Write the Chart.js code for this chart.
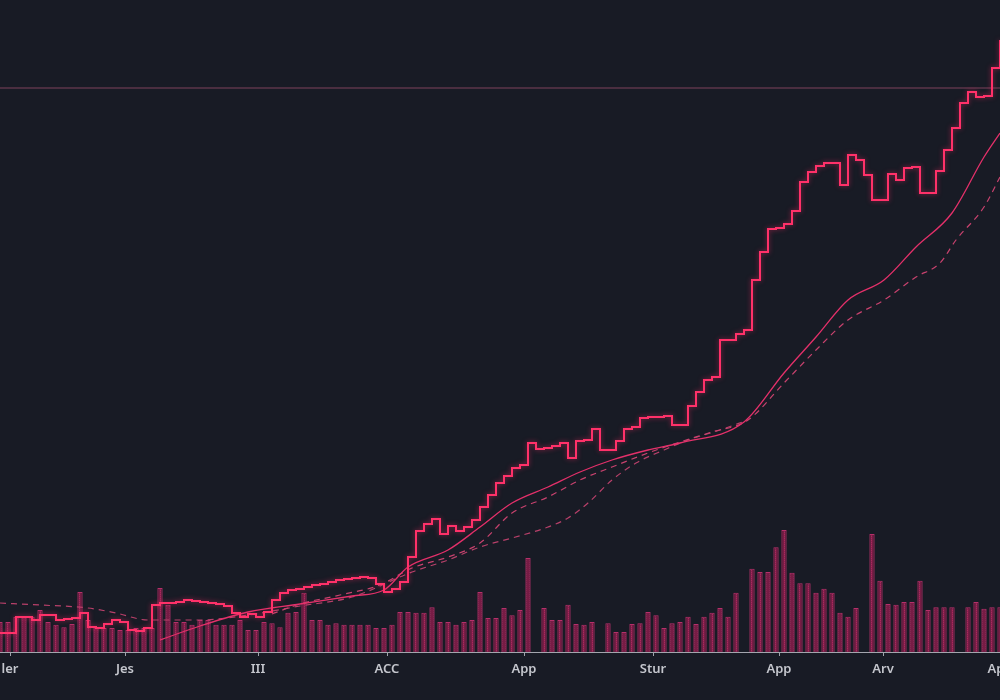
<!DOCTYPE html>
<html>
<head>
<meta charset="utf-8">
<title>Price chart</title>
<script src="https://cdn.jsdelivr.net/npm/chart.js@4"></script>
<style>
    html, body { margin: 0; padding: 0; background: #181b25; }
    #wrap { width: 1000px; height: 700px; position: relative; }
</style>
</head>
<body>
<div id="wrap"><canvas id="priceChart"></canvas></div>
<script>
// Data (x = trading day, one price/volume sample every 2 days)
const tickDays = [2.5, 31.25, 64.5, 96.75, 131, 163.25, 194.75, 220.75, 250];
const tickLabels = ['ler', 'Jes', 'III', 'ACC', 'App', 'Stur', 'App', 'Arv', 'App'];

const prices = [
    43.8, 43.8, 47.0, 47.0, 46.4, 47.4, 47.4, 46.4, 46.6, 46.8,
    47.8, 45.0, 44.8, 45.6, 46.4, 46.0, 44.4, 44.2, 44.8, 49.4,
    49.8, 49.8, 50.0, 50.4, 50.2, 50.0, 49.8, 49.6, 49.2, 47.8,
    47.0, 47.6, 47.0, 48.0, 50.4, 51.8, 52.4, 52.6, 53.0, 53.4,
    53.6, 54.0, 54.4, 54.6, 54.8, 55.0, 54.8, 53.6, 52.0, 52.6,
    54.0, 59.0, 64.2, 65.6, 66.6, 63.6, 65.2, 64.2, 65.0, 66.4,
    69.0, 71.4, 73.8, 75.2, 76.8, 77.4, 81.8, 80.6, 80.8, 81.2,
    81.8, 78.8, 82.2, 82.4, 84.6, 80.4, 80.4, 82.2, 84.6, 85.0,
    86.8, 87.0, 87.0, 87.2, 85.4, 85.4, 89.2, 92.0, 94.4, 95.0,
    102.4, 102.4, 103.6, 104.4, 114.4, 120.0, 124.6, 124.8, 125.6, 128.2,
    134.0, 136.0, 137.2, 137.8, 137.8, 133.4, 139.4, 138.4, 135.4, 130.4,
    130.4, 135.6, 134.4, 136.8, 137.0, 131.8, 131.8, 136.2, 140.4, 144.8,
    149.8, 152.0, 151.0, 151.2, 156.8, 162.4
];

const volumes = [
    7.5, 7.5, 8.8, 8.8, 8.8, 10.5, 7.5, 6.8, 6.2, 7.0,
    15.0, 8.0, 6.2, 6.0, 6.0, 5.5, 5.5, 6.0, 6.0, 6.0,
    16.0, 11.8, 7.5, 7.5, 6.8, 8.0, 8.0, 6.8, 6.8, 6.8,
    8.0, 5.5, 5.5, 7.5, 7.2, 6.2, 9.8, 10.0, 14.8, 8.0,
    8.0, 6.8, 7.2, 6.8, 6.8, 6.8, 6.8, 6.0, 6.0, 6.8,
    10.0, 10.0, 9.8, 9.8, 11.2, 7.5, 7.5, 6.8, 7.5, 8.0,
    15.0, 8.5, 8.5, 11.0, 9.2, 10.5, 23.5, null, 11.0, 8.0,
    8.0, 11.8, 7.0, 6.8, 7.5, null, 7.2, 5.0, 5.0, 7.0,
    7.2, 10.0, 9.2, 6.0, 7.2, 7.5, 8.8, 7.0, 8.8, 9.8,
    11.0, 8.8, 14.8, null, 20.8, 20.0, 20.0, 26.2, 30.5, 19.8,
    17.2, 17.2, 14.8, 15.8, 14.8, 9.8, 8.8, 11.0, null, 29.5,
    17.8, 12.0, 11.8, 12.5, 12.5, 17.8, 10.5, 11.2, 11.2, 11.2,
    null, 11.2, 12.5, 10.8, 11.2, 11.2
];

const maFastDays = [40, 50, 62, 75, 88, 96, 102, 112, 120, 128, 137, 145, 153, 162, 170, 186, 196, 204, 212, 221, 229, 238, 246, 250];
const maFastVals = [42.4, 45.2, 48.0, 49.6, 51.2, 52.4, 57.0, 60.4, 65.0, 69.8, 73.0, 76.0, 78.4, 80.4, 81.8, 86.0, 95.8, 103.0, 110.4, 114.4, 121.0, 127.8, 139.0, 143.8];

const maMidDays = [68, 75, 85, 95, 103, 112, 120, 128, 137, 145, 153, 162, 170, 178, 187, 196, 204, 212, 221, 229, 235, 239, 246, 250];
const maMidVals = [47.6, 49.6, 51.4, 53.4, 56.8, 59.0, 61.8, 67.8, 71.0, 74.4, 77.0, 79.8, 82.0, 84.0, 86.4, 93.8, 100.4, 106.4, 110.4, 115.0, 117.8, 122.4, 129.0, 135.0];

const maSlowDays = [0, 10, 22, 29, 37, 50, 62, 75, 88, 103, 112, 120, 128, 137, 142, 147, 153, 159, 166, 172, 180, 187];
const maSlowVals = [49.8, 49.4, 48.8, 47.8, 46.4, 46.4, 47.4, 49.2, 51.0, 56.0, 58.4, 61.0, 62.8, 65.0, 66.8, 69.8, 74.4, 77.8, 80.4, 82.4, 84.4, 86.4];

const resistance = 152.8;

// Build datasets
const pairs = (days, vals) => days.map((d, i) => ({ x: d, y: vals[i] }));
const priceData = prices.map((p, i) => ({ x: i * 2, y: p }));
const volumeData = volumes.map((v, i) => ({ x: i * 2, y: v }));

// dotted crimson fill for the volume bars
function barPattern() {
    const c = document.createElement('canvas');
    c.width = 3;
    c.height = 2;
    const g = c.getContext('2d');
    g.fillStyle = '#771c45';
    g.fillRect(0, 0, 3, 2);
    g.fillStyle = '#a82a5d';
    g.fillRect(1, 0, 1, 1);
    g.fillStyle = '#8d2251';
    g.fillRect(1, 1, 1, 1);
    return g.createPattern(c, 'repeat');
}

// soft glow behind the price line
const glowPlugin = {
    id: 'glow',
    beforeDatasetDraw(chart, args) {
        if (args.index !== 0) return;
        const ctx = chart.ctx;
        ctx.save();
        ctx.shadowColor = 'rgba(255, 40, 100, 0.55)';
        ctx.shadowBlur = 5;
    },
    afterDatasetDraw(chart, args) {
        if (args.index !== 0) return;
        chart.ctx.restore();
    }
};

const ctx = document.getElementById('priceChart').getContext('2d');
new Chart(ctx, {
    data: {
        datasets: [
            {
                type: 'line',
                label: 'Price',
                data: priceData,
                yAxisID: 'yPrice',
                stepped: true,
                borderColor: '#ff3169',
                borderWidth: 2,
                pointRadius: 0,
                order: 0
            },
            {
                type: 'line',
                label: 'MA fast',
                data: pairs(maFastDays, maFastVals),
                yAxisID: 'yPrice',
                borderColor: '#e4306a',
                borderWidth: 1.3,
                pointRadius: 0,
                cubicInterpolationMode: 'monotone',
                order: 1
            },
            {
                type: 'line',
                label: 'MA mid',
                data: pairs(maMidDays, maMidVals),
                yAxisID: 'yPrice',
                borderColor: '#c8426e',
                borderWidth: 1.2,
                borderDash: [6, 5],
                pointRadius: 0,
                cubicInterpolationMode: 'monotone',
                order: 1
            },
            {
                type: 'line',
                label: 'MA slow',
                data: pairs(maSlowDays, maSlowVals),
                yAxisID: 'yPrice',
                borderColor: '#b8406a',
                borderWidth: 1.2,
                borderDash: [6, 5],
                pointRadius: 0,
                cubicInterpolationMode: 'monotone',
                order: 1
            },
            {
                type: 'line',
                label: 'Resistance',
                data: [{ x: 0, y: resistance }, { x: 250, y: resistance }],
                yAxisID: 'yPrice',
                borderColor: '#4a2e40',
                borderWidth: 2,
                pointRadius: 0,
                order: 2
            },
            {
                type: 'bar',
                label: 'Volume',
                data: volumeData,
                yAxisID: 'yVol',
                backgroundColor: barPattern(),
                borderColor: '#b5306a',
                borderWidth: { left: 1, right: 1, top: 1, bottom: 0 },
                borderSkipped: false,
                barPercentage: 0.66,
                categoryPercentage: 1,
                order: 3
            }
        ]
    },
    options: {
        responsive: true,
        maintainAspectRatio: false,
        animation: false,
        layout: { padding: 0 },
        plugins: {
            legend: { display: false },
            tooltip: { enabled: false }
        },
        scales: {
            x: {
                type: 'linear',
                min: 0,
                max: 250,
                offset: false,
                afterBuildTicks: scale => {
                    scale.ticks = tickDays.map(v => ({ value: v }));
                },
                afterFit: scale => {
                    scale.height = 48;
                    scale.paddingLeft = 0;
                    scale.paddingRight = 0;
                },
                ticks: {
                    autoSkip: false,
                    maxRotation: 0,
                    padding: 5,
                    color: '#c4c6cd',
                    font: { family: 'Noto Sans', size: 13, weight: '600' },
                    callback: (value, index) => tickLabels[index]
                },
                grid: {
                    offset: false,
                    drawOnChartArea: false,
                    drawTicks: true,
                    tickLength: 4,
                    color: '#a0a2ab'
                },
                border: { display: true, color: '#a3a5ae', width: 1 }
            },
            yPrice: {
                type: 'linear',
                display: false,
                min: 40,
                max: 170.4
            },
            yVol: {
                type: 'linear',
                display: false,
                min: 0,
                max: 163
            }
        }
    },
    plugins: [glowPlugin]
});
</script>
</body>
</html>
